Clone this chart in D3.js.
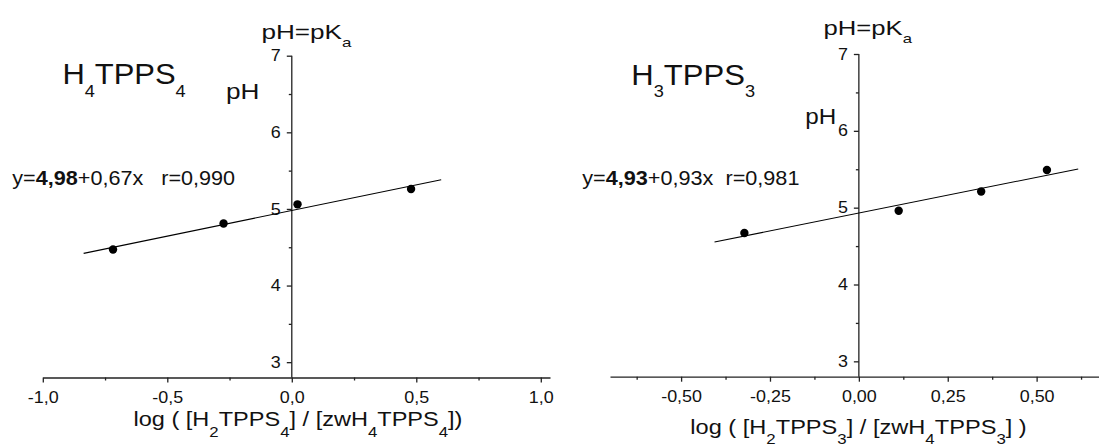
<!DOCTYPE html>
<html>
<head>
<meta charset="utf-8">
<script src="https://cdn.jsdelivr.net/npm/d3@7"></script>
<style>
  body { margin: 0; background: #fff; }
  svg { display: block; font-family: "Liberation Sans", Arial, sans-serif; }
  .domain, .tick line { stroke: #222; stroke-width: 1.3; }
</style>
</head>
<body>
<div id="chart"></div>
<script>
// values
var leftX = [-0.718, -0.274, 0.023, 0.479];
var leftY = [4.47, 4.81, 5.06, 5.26];
var leftFitX = [-0.836, 0.60];
var leftFit = [4.98, 0.67];          // intercept, slope
var leftXTicks = [-1.0, -0.5, 0.0, 0.5, 1.0];
var leftXMinor = [-0.75, -0.25, 0.25, 0.75];

var rightX = [-0.322, 0.112, 0.344, 0.529];
var rightY = [4.67, 4.96, 5.21, 5.49];
var rightFitX = [-0.406, 0.617];
var rightFit = [4.93, 0.93];
var rightXTicks = [-0.5, -0.25, 0.0, 0.25, 0.5];
var rightXMinor = [-0.625, -0.375, -0.125, 0.125, 0.375, 0.625];

var yTicks = [3, 4, 5, 6, 7];
var yMinor = [3.5, 4.5, 5.5, 6.5];

var svgWidth = 1099;
var svgHeight = 444;
var tickStretch = 1.12;

var svg = d3.select("#chart")
  .append("svg")
  .attr("width", svgWidth)
  .attr("height", svgHeight);

var loc = d3.formatLocale({decimal: ",", thousands: ".", grouping: [3], currency: ["", ""], minus: "-"});

function panel(cfg) {
  var x = d3.scaleLinear().domain(cfg.xDomain).range(cfg.xRange);
  var y = d3.scaleLinear().domain([2.8, 7]).range(cfg.yRange);
  var g = svg.append("g");
  var x0 = x(0);
  var yb = y(2.8);

  // minor ticks
  g.append("g")
    .attr("transform", `translate(0, ${yb})`)
    .call(d3.axisBottom(x).tickValues(cfg.xMinor).tickSize(3).tickSizeOuter(0).tickFormat(""))
    .call(a => a.select(".domain").remove());
  g.append("g")
    .attr("transform", `translate(${x0}, 0)`)
    .call(d3.axisLeft(y).tickValues(yMinor).tickSize(3).tickSizeOuter(0).tickFormat(""))
    .call(a => a.select(".domain").remove());

  // main axes
  g.append("g")
    .attr("transform", `translate(0, ${yb})`)
    .call(d3.axisBottom(x).tickValues(cfg.xTicks).tickSize(5).tickSizeOuter(0).tickPadding(9)
      .tickFormat(loc.format(cfg.fmt)))
    .call(a => a.selectAll("text").attr("font-size", 16).attr("fill", "#111")
      .attr("transform", `scale(${tickStretch}, 1)`));
  var yAxis = g.append("g")
    .attr("transform", `translate(${x0}, 0)`)
    .call(d3.axisLeft(y).tickValues(yTicks).tickSize(5).tickSizeOuter(0).tickPadding(6)
      .tickFormat(d3.format("d")))
    .call(a => a.selectAll("text").attr("font-size", 16).attr("fill", "#111")
      .attr("x", -11 / tickStretch)
      .attr("transform", `scale(${tickStretch}, 1)`));
  yAxis.select(".domain").attr("d", `M0,${y(7)}V${yb}`);

  // fit line
  var fit = cfg.fitX.map(v => [v, cfg.fit[0] + cfg.fit[1] * v]);
  g.append("path")
    .attr("d", d3.line().x(d => x(d[0])).y(d => y(d[1]))(fit))
    .attr("fill", "none")
    .attr("stroke", "#000")
    .attr("stroke-width", 1.1);

  // points
  g.selectAll("circle")
    .data(cfg.px.map((v, i) => [v, cfg.py[i]]))
    .enter()
    .append("circle")
    .attr("cx", d => x(d[0]))
    .attr("cy", d => y(d[1]))
    .attr("r", 4.2)
    .attr("fill", "#000");
  return g;
}

// text with subscripts, stretched sideways to the width seen in the picture
// parts = [[text, isSub, isBold], ...]
function label(g, xPos, yPos, size, width, subSize, subDy, parts) {
  var grp = g.append("g").attr("transform", `translate(${xPos}, ${yPos})`);
  var t = grp.append("text")
    .attr("font-size", size)
    .attr("fill", "#111")
    .attr("xml:space", "preserve");
  var shifted = false;
  parts.forEach(p => {
    var s = t.append("tspan").text(p[0]);
    if (p[1]) {
      s.attr("font-size", subSize);
      if (!shifted) { s.attr("dy", subDy); shifted = true; }
    } else if (shifted) {
      s.attr("dy", -subDy); shifted = false;
    }
    if (p[2]) s.attr("font-weight", "bold");
  });
  var w = t.node().getBBox().width;
  grp.attr("transform", `translate(${xPos}, ${yPos}) scale(${width / w}, 1)`);
  return grp;
}

var gl = panel({
  xDomain: [-1, 1.037], xRange: [42.8, 550],
  yRange: [377.5, 55.7],
  xTicks: leftXTicks, xMinor: leftXMinor, fmt: ".1f",
  fitX: leftFitX, fit: leftFit, px: leftX, py: leftY
});
var gr = panel({
  xDomain: [-0.7, 0.75], xRange: [610, 1125.5],
  yRange: [376.7, 54],
  xTicks: rightXTicks, xMinor: rightXMinor, fmt: ".2f",
  fitX: rightFitX, fit: rightFit, px: rightX, py: rightY
});

// left panel texts
label(gl, 261.5, 39, 20, 91, 13, 8, [["pH=pK"], ["a", true]]);
label(gl, 62.4, 84, 29, 123.4, 17, 13, [["H"], ["4", true], ["TPPS"], ["4", true]]);
label(gl, 226, 99, 22, 33.5, 13, 10, [["pH"]]);
label(gl, 12.3, 185, 21, 223, 13, 10, [["y="], ["4,98", false, true], ["+0,67x   r=0,990"]]);
label(gl, 133.5, 426, 21, 329, 15, 11,
  [["log ( [H"], ["2", true], ["TPPS"], ["4", true], ["] / [zwH"], ["4", true], ["TPPS"], ["4", true], ["])"]]);

// right panel texts
label(gr, 823.5, 35, 20, 89.5, 13, 8, [["pH=pK"], ["a", true]]);
label(gr, 631.3, 85, 29, 123.8, 17, 12, [["H"], ["3", true], ["TPPS"], ["3", true]]);
label(gr, 805.3, 124, 22, 31, 13, 10, [["pH"]]);
label(gr, 582.3, 185, 21, 217.3, 13, 10, [["y="], ["4,93", false, true], ["+0,93x  r=0,981"]]);
label(gr, 690.3, 434, 21, 336.6, 15, 10,
  [["log ( [H"], ["2", true], ["TPPS"], ["3", true], ["] / [zwH"], ["4", true], ["TPPS"], ["3", true], ["] )"]]);
</script>
</body>
</html>
